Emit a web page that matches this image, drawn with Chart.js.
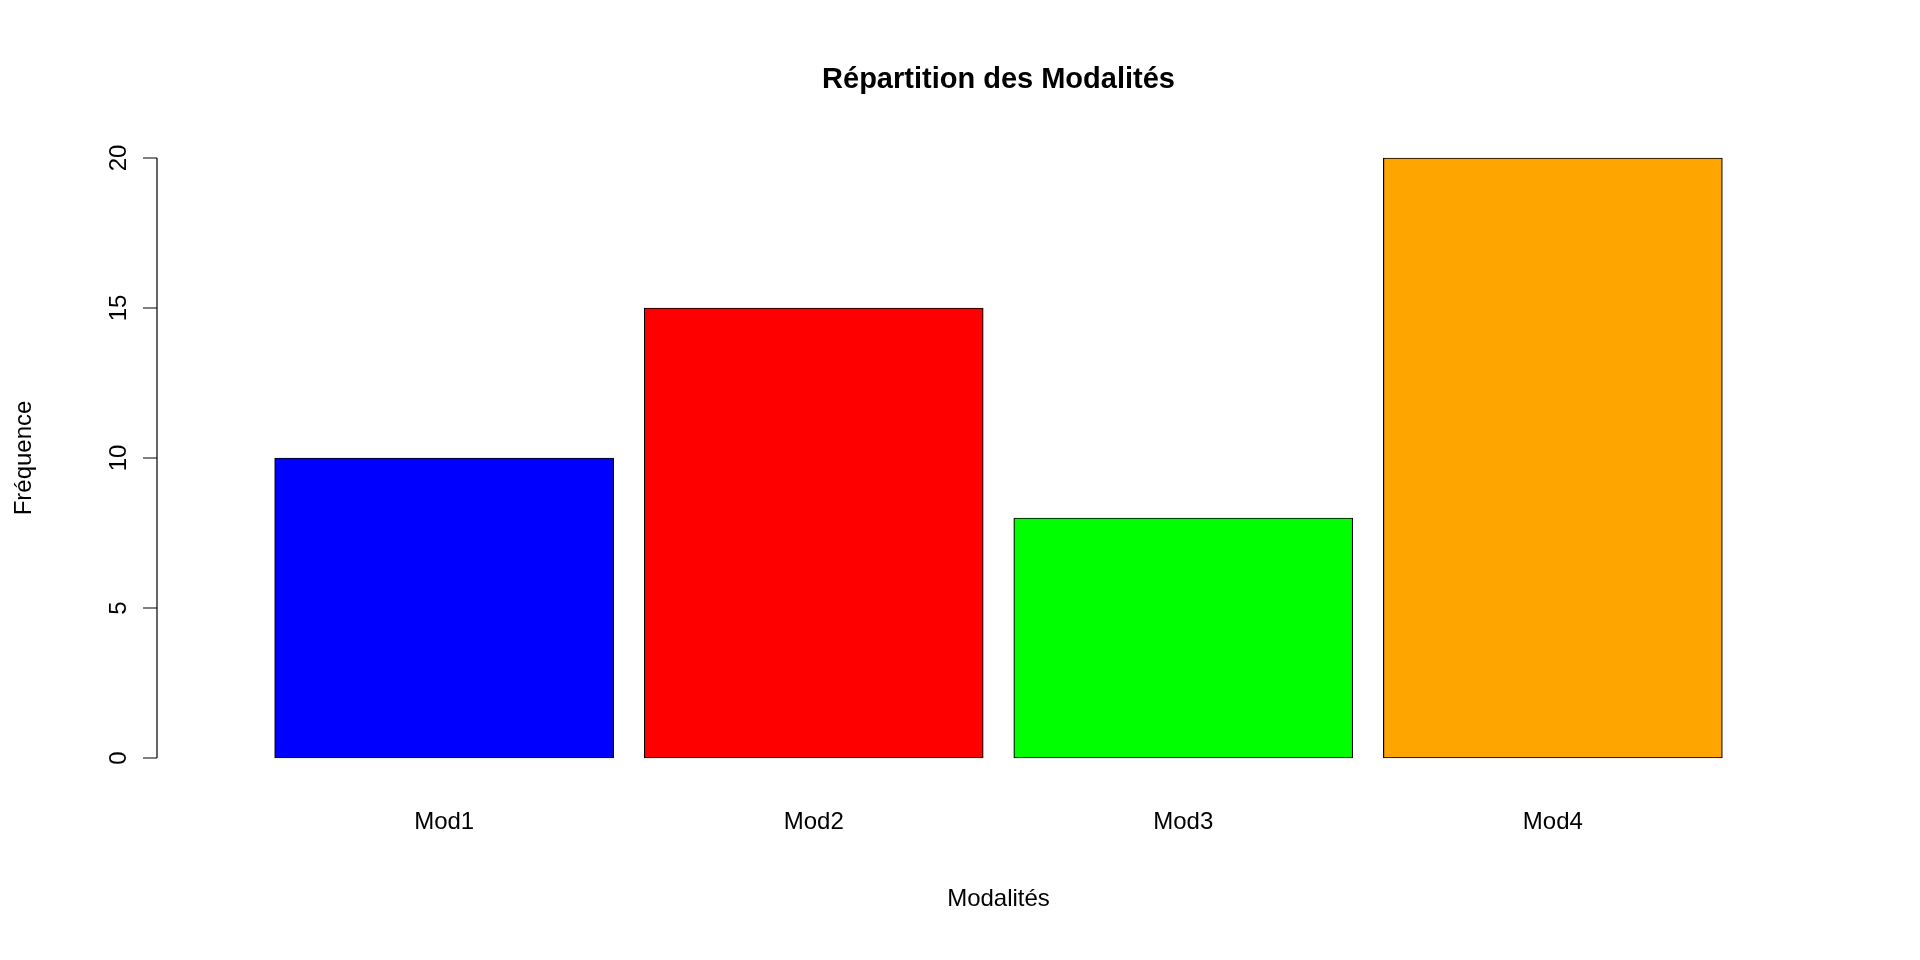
<!DOCTYPE html>
<html>
<head>
<meta charset="utf-8">
<script src="https://cdn.jsdelivr.net/npm/chart.js@4/dist/chart.umd.min.js"></script>
<style>
  html, body { margin: 0; padding: 0; background: #fff; overflow: hidden; }
  #wrap { width: 1920px; height: 960px; }
</style>
</head>
<body>
<div id="wrap"><canvas id="barChart" width="1920" height="960"></canvas></div>
<script>
const categories = ['Mod1', 'Mod2', 'Mod3', 'Mod4'];
const positions = [0.7, 1.9, 3.1, 4.3];
const frequencies = [10, 15, 8, 20];
const barColors = ['#0000ff', '#ff0000', '#00ff00', '#ffa500'];
const yTicks = [0, 5, 10, 15, 20];

const FONT = '"Liberation Sans", Arial, sans-serif';

// draws the R-style axes, labels and title using the chart's own scales
const rAxes = {
  id: 'rAxes',
  afterDraw(chart) {
    const ctx = chart.ctx;
    const x = chart.scales.x, y = chart.scales.y;
    const left = chart.chartArea.left;
    ctx.save();
    ctx.strokeStyle = '#000';
    ctx.lineWidth = 1.2;
    ctx.fillStyle = '#000';

    // y axis line and ticks
    ctx.beginPath();
    ctx.moveTo(left, y.getPixelForValue(0));
    ctx.lineTo(left, y.getPixelForValue(20));
    yTicks.forEach(t => {
      const py = y.getPixelForValue(t);
      ctx.moveTo(left, py);
      ctx.lineTo(left - 14, py);
    });
    ctx.stroke();

    ctx.font = '24px ' + FONT;
    ctx.textAlign = 'center';
    ctx.textBaseline = 'middle';
    yTicks.forEach(t => {
      const py = y.getPixelForValue(t);
      ctx.save();
      ctx.translate(left - 38, py);
      ctx.rotate(-Math.PI / 2);
      ctx.fillText(String(t), 0, 0);
      ctx.restore();
    });

    // category labels
    categories.forEach((c, i) => {
      ctx.fillText(c, x.getPixelForValue(positions[i]), 822);
    });

    // axis titles
    const midX = (x.getPixelForValue(0.2) + x.getPixelForValue(4.8)) / 2;
    ctx.fillText('Modalités', midX, 899);
    ctx.save();
    ctx.translate(24, (y.getPixelForValue(-0.8) + y.getPixelForValue(20.8)) / 2);
    ctx.rotate(-Math.PI / 2);
    ctx.fillText('Fréquence', 0, 0);
    ctx.restore();

    // title
    ctx.font = 'bold 29px ' + FONT;
    ctx.fillText('Répartition des Modalités', midX, 80);
    ctx.restore();
  }
};

new Chart(document.getElementById('barChart').getContext('2d'), {
  type: 'bar',
  data: {
    datasets: [{
      data: positions.map((p, i) => ({ x: p, y: frequencies[i] })),
      backgroundColor: barColors,
      borderColor: '#000',
      borderWidth: 1.2,
      borderSkipped: false,
      barThickness: 339
    }]
  },
  options: {
    responsive: false,
    animation: false,
    devicePixelRatio: 1,
    layout: { padding: { left: 157, right: 80, top: 134, bottom: 178 } },
    plugins: { legend: { display: false }, tooltip: { enabled: false } },
    scales: {
      x: { type: 'linear', min: 0.016, max: 4.984, display: false },
      y: { min: -0.8, max: 20.8, display: false }
    }
  },
  plugins: [rAxes]
});
</script>
</body>
</html>
